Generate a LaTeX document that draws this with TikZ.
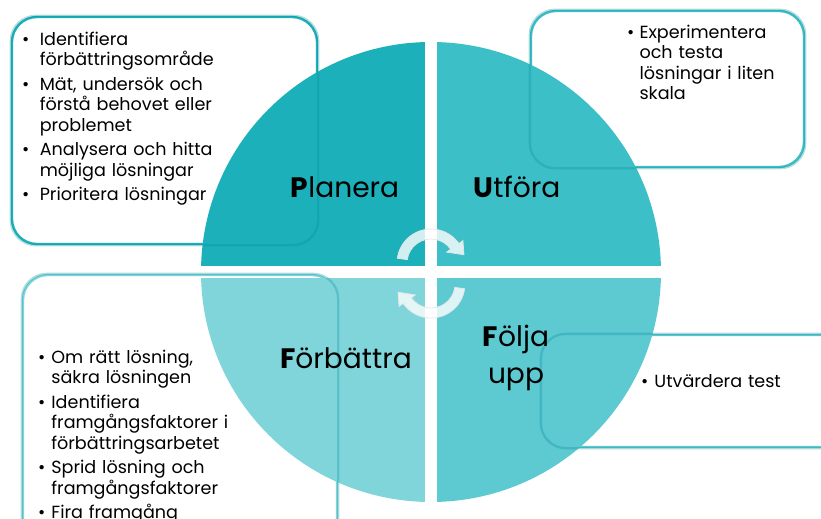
\documentclass[tikz,border=0pt]{standalone}
\usepackage{fontspec}
\setmainfont{Poppins}
\usepackage{tikz}
\usetikzlibrary{positioning}
\definecolor{planfarg}{HTML}{1BB0BA}
\definecolor{utffarg}{HTML}{3DBFC7}
\definecolor{foljfarg}{HTML}{5DCAD2}
\definecolor{forbfarg}{HTML}{80D5DB}
\definecolor{kantmork}{HTML}{078E99}
\newcommand{\punkt}[2][1em]{\noindent\hangindent=#1\hangafter=1\makebox[#1][l]{\textbullet}#2\par}
\tikzstyle{ruta} = [draw, line width=2pt, fill=white, rounded corners=7.5mm, inner sep=0pt]
\tikzstyle{kant} = [draw=kantmork, draw opacity=0.3, line width=2pt, rounded corners=7.5mm]
\tikzstyle{punkter} = [anchor=north west, inner sep=0pt, align=left, text width=75mm, font={\fontsize{15}{17.3}\selectfont\setlength{\parskip}{3.8pt}}]
\tikzstyle{fas} = [font=\fontsize{24}{31}\selectfont, align=center, inner sep=0pt]
\tikzstyle{pil} = [fill=white, fill opacity=0.8, draw=white!80!gray, line width=0.6pt]

\begin{document}
\begin{tikzpicture}[x=0.3mm, y=-0.3mm]
	\useasboundingbox (0,0) rectangle (821,519);
	\clip (0,0) rectangle (821,519);
	\coordinate (mitt) at (431,272);
	% rutorna bakom cirkeln
	\node[ruta, draw=planfarg, minimum width=91.5mm, minimum height=68.1mm] (planruta) at (164.5,130.5) {};
	\node[ruta, draw=utffarg, minimum width=81.9mm, minimum height=46.8mm] (utfruta) at (667.5,89) {};
	\node[ruta, draw=foljfarg, minimum width=98.4mm, minimum height=33.6mm] (foljruta) at (706,391) {};
	\node[ruta, draw=forbfarg, minimum width=94.2mm, minimum height=88.5mm] (forbruta) at (180,422.5) {};
	\node[punkter] (plantext) at (22,32) {%
		\punkt{Identifiera\newline förbättringsområde}
		\punkt{Mät, undersök och\newline förstå behovet eller\newline problemet}
		\punkt{Analysera och hitta\newline möjliga lösningar}
		\punkt{Prioritera lösningar}};
	\node[punkter] (utftext) at (627,25) {%
		\punkt[0.7em]{Experimentera\newline och testa\newline lösningar i liten\newline skala}};
	\node[punkter] (foljtext) at (641,374) {%
		\punkt[0.75em]{Utvärdera test}};
	\node[punkter] (forbtext) at (38,350) {%
		\punkt[0.75em]{Om rätt lösning,\newline säkra lösningen}
		\punkt[0.75em]{Identifiera\newline framgångsfaktorer i\newline förbättringsarbetet}
		\punkt[0.75em]{Sprid lösning och\newline framgångsfaktorer}
		\punkt[0.75em]{Fira framgång}};
	% cirkelns fyra delar
	\begin{scope}
		\clip (mitt) circle (230);
		\fill[planfarg] ([shift={(-6,-6)}]mitt) rectangle ++(-240,-240);
		\fill[utffarg] ([shift={(6,-6)}]mitt) rectangle ++(240,-240);
		\fill[foljfarg] ([shift={(6,6)}]mitt) rectangle ++(240,240);
		\fill[forbfarg] ([shift={(-6,6)}]mitt) rectangle ++(-240,240);
	\end{scope}
	\draw[kant] (planruta.south west) rectangle (planruta.north east);
	\draw[kant] (utfruta.south west) rectangle (utfruta.north east);
	\draw[kant] (foljruta.south west) rectangle (foljruta.north east);
	\draw[kant] (forbruta.south west) rectangle (forbruta.north east);
	\node[fas] (planera) at (345,187) {\textbf{P}lanera};
	\node[fas] (utfora) at (517,187) {\textbf{U}tföra};
	\node[fas] (folja) at (516,358) {\textbf{F}ölja\\upp};
	\node[fas] (forbattra) at (346,358) {\textbf{F}örbättra};
	% pilarna i mitten
	\coordinate (ovre) at (431,263);
	\coordinate (nedre) at (431,284);
	\draw[pil, shift={(ovre)}] (188:34) arc[start angle=188, end angle=325, radius=34] -- (325:39) -- (346:34) -- (325:19) -- (325:24) arc[start angle=325, end angle=188, radius=24] -- cycle;
	\draw[pil, shift={(nedre)}] (8:34) arc[start angle=8, end angle=145, radius=34] -- (145:39) -- (166:34) -- (145:19) -- (145:24) arc[start angle=145, end angle=8, radius=24] -- cycle;
\end{tikzpicture}
\end{document}
